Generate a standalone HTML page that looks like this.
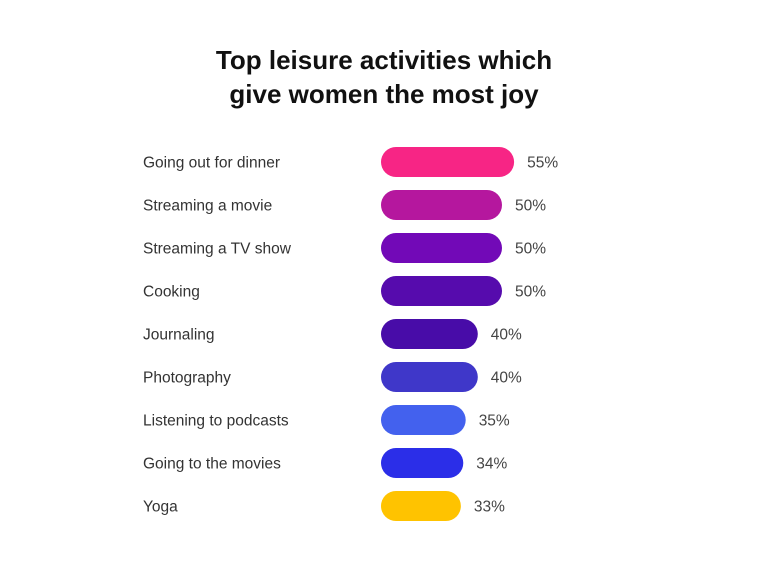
<!DOCTYPE html>
<html><head><meta charset="utf-8"><style>
body{margin:0;background:#fff;width:768px;height:576px;overflow:hidden;font-family:"Liberation Sans",sans-serif}
</style></head><body>
<svg width="768" height="576">
<text x="384" y="69" text-anchor="middle" font-size="26" font-weight="bold" fill="#111">Top leisure activities which</text>
<text x="384" y="103" text-anchor="middle" font-size="26" font-weight="bold" fill="#111">give women the most joy</text>
<g id="bars"></g>
</svg>
<script>
const categories=["Going out for dinner","Streaming a movie","Streaming a TV show","Cooking","Journaling","Photography","Listening to podcasts","Going to the movies","Yoga"];
const values=[55,50,50,50,40,40,35,34,33];
const valueLabels=["55%","50%","50%","50%","40%","40%","35%","34%","33%"];
const colors=["#f72585","#b5179e","#7209b7","#560bad","#480ca8","#3f37c9","#4361ee","#2b2ee8","#ffc300"];
const x0=381,pxPer=2.42,y0=162,step=43,h=30;
const xScale=v=>v*pxPer;
const yScale=i=>y0+i*step;
const g=document.getElementById('bars');
const NS="http://www.w3.org/2000/svg";
categories.forEach((c,i)=>{
  const cy=yScale(i),w=xScale(values[i]);
  const t=document.createElementNS(NS,'text');
  
  
  t.setAttribute('x',143);t.setAttribute('y',cy+5.5);t.setAttribute('font-size','15.5');t.setAttribute('fill','#333');
  t.textContent=c;g.appendChild(t);
  const r=document.createElementNS(NS,'rect');
  
  
  r.setAttribute('x',x0);r.setAttribute('y',cy-h/2);r.setAttribute('width',w);r.setAttribute('height',h);
  r.setAttribute('rx',15);r.setAttribute('fill',colors[i]);g.appendChild(r);
  const v=document.createElementNS(NS,'text');
  
  
  v.setAttribute('x',x0+w+13);v.setAttribute('y',cy+5.5);v.setAttribute('font-size','15.5');v.setAttribute('fill','#444');
  v.textContent=valueLabels[i];g.appendChild(v);
});
</script>
</body></html>
